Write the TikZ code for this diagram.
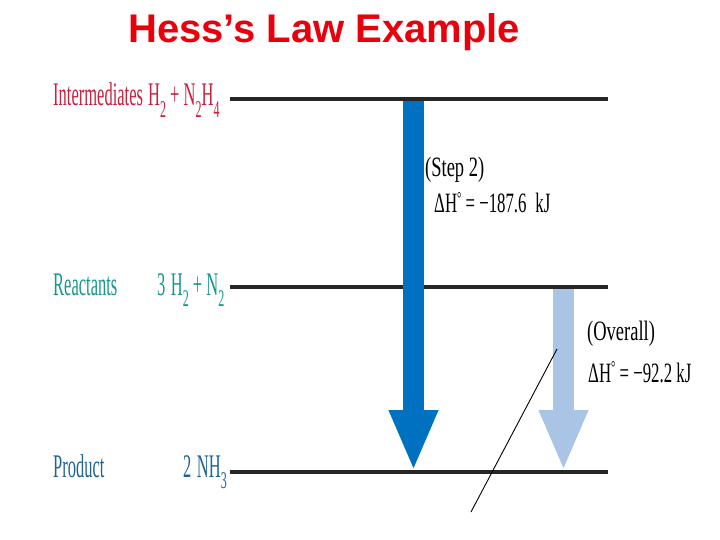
\documentclass[tikz,border=0pt]{standalone}
\usepackage{fontspec}
\setmainfont{Liberation Serif}
\newfontfamily\titlefont{Liberation Sans}
\newfontfamily\narrowfont[FakeStretch=0.5]{Liberation Serif}
\newfontfamily\labelfont[FakeStretch=0.66]{Liberation Serif}
\newfontfamily\dhfont[FakeStretch=0.6]{Liberation Serif}
\usetikzlibrary{arrows.meta}

\definecolor{titlered}{RGB}{232,0,12}
\definecolor{interred}{RGB}{200,32,62}
\definecolor{reactteal}{RGB}{22,150,140}
\definecolor{prodblue}{RGB}{32,100,150}
\definecolor{stepblue}{RGB}{0,112,192}
\definecolor{overallblue}{RGB}{170,196,230}

\newcommand{\lowsub}[1]{\raisebox{-0.34em}{\fontsize{24}{24}\selectfont #1}}
\newcommand{\dH}{ΔH\raisebox{0.3em}{\fontsize{18}{18}\selectfont °}}

\begin{document}
\begin{tikzpicture}[x=1pt,
            y=-1pt,
            every node/.style={inner sep=0pt, anchor=base west},
            lvltext/.style={font=\narrowfont\fontsize{33}{33}\selectfont},
            steptext/.style={font=\labelfont\fontsize{28}{28}\selectfont},
            dhtext/.style={font=\dhfont\fontsize{28}{28}\selectfont},
            level/.style={line width=4pt, draw=black!85},
            bigarrow/.style={line width=21pt,
                             -{Triangle[width=45pt,length=61pt]}}]

        \useasboundingbox (0,0) rectangle (720,540);

        % title
        \node[font=\titlefont\bfseries\fontsize{40}{40}\selectfont,
              text=titlered] (title) at (128,43) {Hess’s Law Example};

        % energy levels
        \coordinate (interL) at (230,99);
        \coordinate (interR) at (608,99);
        \coordinate (reactL) at (230,287);
        \coordinate (reactR) at (608,287);
        \coordinate (prodL)  at (230,472);
        \coordinate (prodR)  at (608,472);

        \draw[level] (interL) -- (interR);
        \draw[level] (reactL) -- (reactR);
        \draw[level] (prodL)  -- (prodR);

        % level labels
        \node[lvltext, text=interred]  (inter)  at (53,106)  {Intermediates};
        \node[lvltext, text=interred]  (interF) at (148,106) {H\lowsub{2} + N\lowsub{2}H\lowsub{4}};
        \node[lvltext, text=reactteal] (react)  at (53,295)  {Reactants};
        \node[lvltext, text=reactteal] (reactF) at (157,295) {3\,H\lowsub{2} + N\lowsub{2}};
        \node[lvltext, text=prodblue]  (prod)   at (53,477)  {Product};
        \node[lvltext, text=prodblue]  (prodF)  at (183,477) {2\,NH\lowsub{3}};

        % arrows
        \coordinate (stepTop)    at (413.5,101);
        \coordinate (stepTip)    at (413.5,471);
        \coordinate (overallTop) at (563.5,289);
        \coordinate (overallTip) at (563.5,471);

        \draw[bigarrow, stepblue]    (stepTop)    -- (stepTip);
        \draw[bigarrow, overallblue] (overallTop) -- (overallTip);

        % arrow labels
        \node[steptext] (step)   at (425,177) {(Step 2)};
        \node[dhtext]   (stepdH) at (434,213) {\dH{} = −187.6\, kJ};
        \node[steptext] (over)   at (587,340) {(Overall)};
        \node[dhtext]   (overdH) at (588,382) {\dH{} = −92.2 kJ};

        % slash
        \coordinate (slashA) at (557,349);
        \coordinate (slashB) at (471,512);
        \draw[line width=0.9pt] (slashA) -- (slashB);

    \end{tikzpicture}
\end{document}
